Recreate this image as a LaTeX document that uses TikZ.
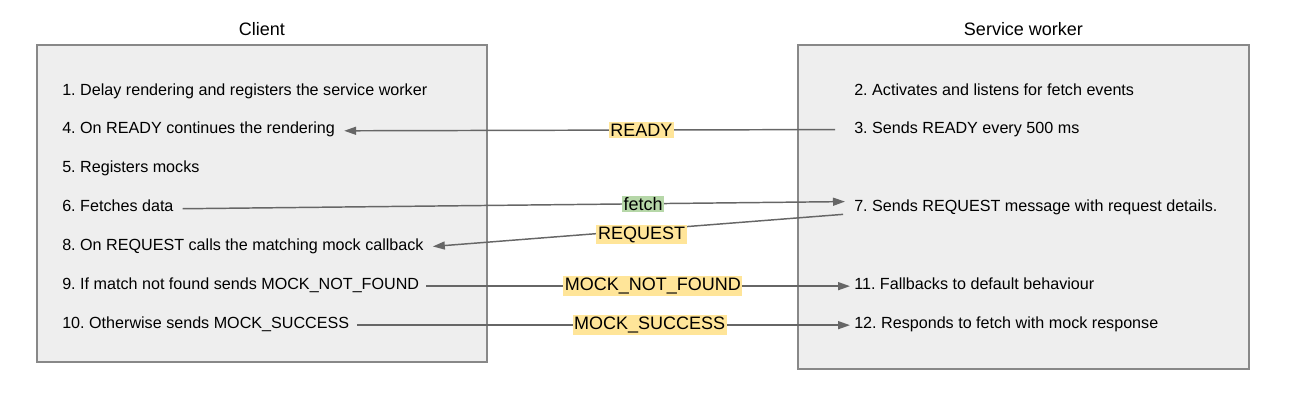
\documentclass[tikz,border=0pt]{standalone}
\usepackage{fontspec}
\setmainfont{Liberation Sans}
\usepackage{tikz}
\usetikzlibrary{arrows.meta,positioning}

\definecolor{panelfill}{HTML}{EEEEEE}
\definecolor{paneledge}{HTML}{888888}
\definecolor{msggray}{HTML}{666666}
\definecolor{tagyellow}{HTML}{FFE599}
\definecolor{taggreen}{HTML}{B6D7A8}
\frenchspacing

\begin{document}
\begin{tikzpicture}[x=0.75pt,y=-0.75pt]
      \useasboundingbox (0,0) rectangle (1290,417);
      \tikzstyle{panel} = [draw=paneledge, fill=panelfill, line width=1.1pt, inner sep=0pt]
      \tikzstyle{title} = [inner sep=0pt, font=\fontsize{13.5}{16}\selectfont]
      \tikzstyle{txt} = [anchor=west, inner sep=0pt, text height=8.6pt, text depth=2.4pt, font=\fontsize{12.1}{14}\selectfont]
      \tikzstyle{msg} = [draw=msggray, line width=1.1pt, -{Triangle[length=9pt,width=6pt]}, shorten <=6.75pt, shorten >=6.75pt]
      \tikzstyle{tag} = [fill=tagyellow, inner sep=1.2pt, text=black, font=\fontsize{13.5}{16}\selectfont]
      % the two sides
      \node[panel, minimum width=337.5pt, minimum height=237.75pt] (client) at (262,203.5) {};
      \node[panel, minimum width=338.25pt, minimum height=243pt] (worker) at (1023.5,207) {};
      \node[title, above=6pt of client] (clienttitle) {Client};
      \node[title, above=6pt of worker] (workertitle) {Service worker};
      % steps
      \foreach \n/\y/\t in {c1/91.5/{1. Delay rendering and registers the service worker},
          c4/129.5/{4. On READY continues the rendering}, c5/168.5/{5. Registers mocks},
          c6/207.5/{6. Fetches data}, c8/246.5/{8. On REQUEST calls the matching mock callback},
          c9/285.5/{9. If match not found sends MOCK\_NOT\_FOUND},
          c10/324.5/{10. Otherwise sends MOCK\_SUCCESS}}{
        \node[txt] (\n) at (62,\y) {\t};
      }
      \foreach \n/\y/\t in {s2/91.5/{2. Activates and listens for fetch events},
          s3/129.5/{3. Sends READY every 500 ms},
          s7/207.5/{7. Sends REQUEST message with request details.},
          s11/285.5/{11. Fallbacks to default behaviour},
          s12/324.5/{12. Responds to fetch with mock response}}{
        \node[txt] (\n) at (854,\y) {\t};
      }
      % messages
      \path
      (s3.west) edge[msg, shorten <=14.25pt] node[tag, pos=0.41] {READY} ([yshift=-1pt]c4.east);
      \path
      ([yshift=-1pt]c6.east) edge[msg] node[tag, fill=taggreen, pos=0.69] {fetch} ([yshift=4.5pt]s7.west);
      \path
      ([yshift=-4.5pt]s7.west) edge[msg, shorten <=8.25pt] node[tag, pos=0.494, yshift=-3.5pt] {REQUEST} ([yshift=-0.5pt]c8.east);
      \path
      ([yshift=-0.5pt]c9.east) edge[msg, shorten <=5.25pt, shorten >=3pt] node[tag, pos=0.537] {MOCK\_NOT\_FOUND} ([yshift=-0.5pt]s11.west);
      \path
      ([yshift=-0.5pt]c10.east) edge[msg, shorten <=6pt, shorten >=3pt] node[tag, pos=0.595] {MOCK\_SUCCESS} ([yshift=-0.5pt]s12.west);
    \end{tikzpicture}
\end{document}
